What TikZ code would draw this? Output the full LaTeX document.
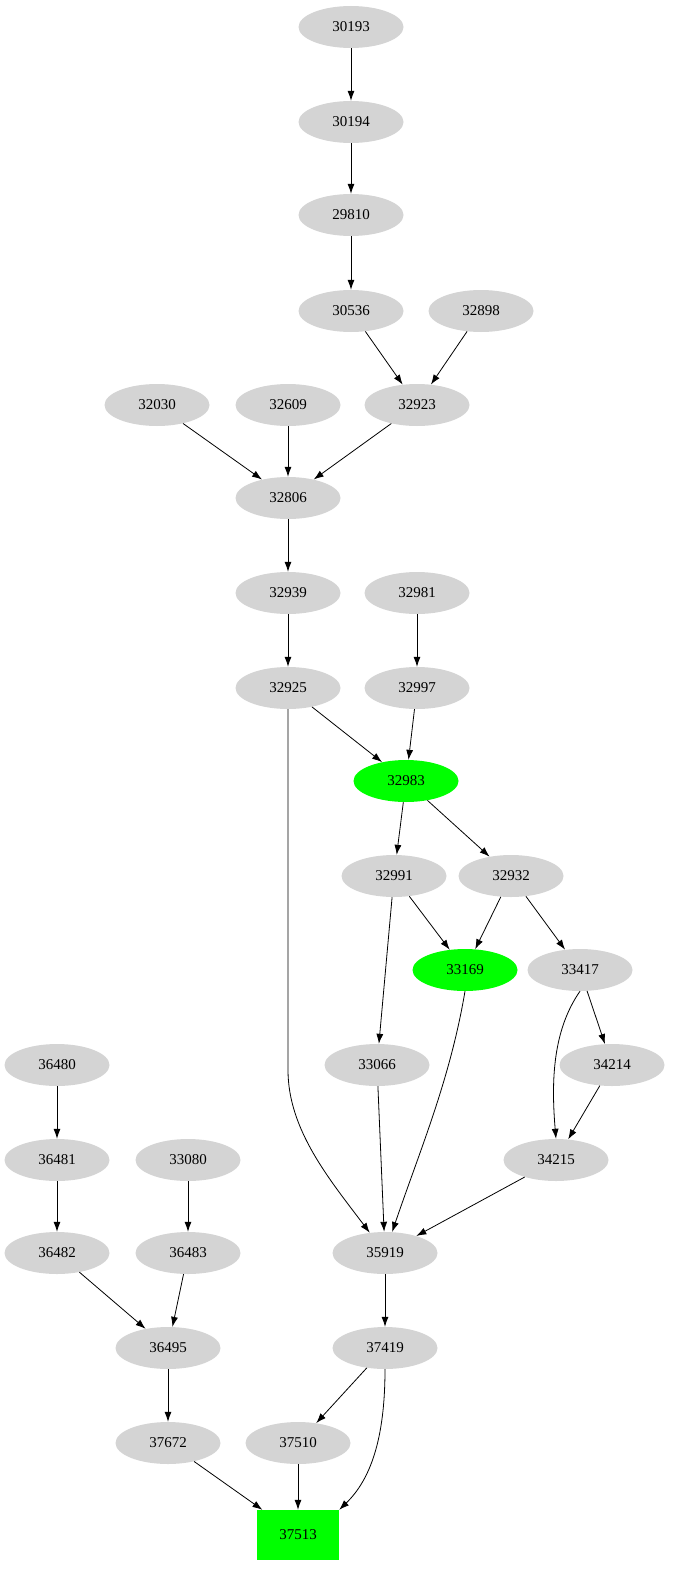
\documentclass[tikz,border=0pt]{standalone}
\usepackage{fontspec}
\setmainfont{Liberation Serif}
\usetikzlibrary{arrows.meta,shapes.geometric}
\begin{document}
\begin{tikzpicture}[x=1pt,y=-1pt,
 nd/.style={ellipse,fill=black!17,minimum width=105pt,minimum height=42pt,inner sep=0pt,font=\fontsize{15}{16}\selectfont},
 gn/.style={nd,fill=green},
 bx/.style={rectangle,fill=green,minimum width=82pt,minimum height=50pt,font=\fontsize{15}{16}\selectfont},
 ar/.style={-{Latex[length=10pt,width=7pt]},line width=0.8pt}]
\useasboundingbox (0,0) rectangle (694,1595);
\node[nd] (a30193) at (351,27) {30193};
\node[nd] (a30194) at (351,122) {30194};
\node[nd] (a29810) at (351,215) {29810};
\node[nd] (a30536) at (351,311) {30536};
\node[nd] (a32898) at (481,311) {32898};
\node[nd] (a32030) at (157,405) {32030};
\node[nd] (a32609) at (288,405) {32609};
\node[nd] (a32923) at (417,405) {32923};
\node[nd] (a32806) at (288,498) {32806};
\node[nd] (a32939) at (288,593) {32939};
\node[nd] (a32981) at (417,593) {32981};
\node[nd] (a32925) at (288,688) {32925};
\node[nd] (a32997) at (417,688) {32997};
\node[gn] (a32983) at (406,781) {32983};
\node[nd] (a32991) at (394,876) {32991};
\node[nd] (a32932) at (511,876) {32932};
\node[gn] (a33169) at (465,970) {33169};
\node[nd] (a33417) at (580,970) {33417};
\node[nd] (a36480) at (57,1065) {36480};
\node[nd] (a33066) at (377,1065) {33066};
\node[nd] (a34214) at (612,1065) {34214};
\node[nd] (a36481) at (57,1160) {36481};
\node[nd] (a33080) at (188,1160) {33080};
\node[nd] (a34215) at (556,1160) {34215};
\node[nd] (a36482) at (57,1253) {36482};
\node[nd] (a36483) at (188,1253) {36483};
\node[nd] (a35919) at (385,1253) {35919};
\node[nd] (a36495) at (168,1348) {36495};
\node[nd] (a37419) at (385,1348) {37419};
\node[nd] (a37672) at (168,1443) {37672};
\node[nd] (a37510) at (298,1443) {37510};
\node[bx] (a37513) at (298,1535) {37513};
\draw[ar] (a30193)--(a30194);
\draw[ar] (a30194)--(a29810);
\draw[ar] (a29810)--(a30536);
\draw[ar] (a30536)--(a32923);
\draw[ar] (a32898)--(a32923);
\draw[ar] (a32030)--(a32806);
\draw[ar] (a32609)--(a32806);
\draw[ar] (a32923)--(a32806);
\draw[ar] (a32806)--(a32939);
\draw[ar] (a32939)--(a32925);
\draw[ar] (a32981)--(a32997);
\draw[ar] (a32925)--(a32983);
\draw[ar] (a32997)--(a32983);
\draw[ar] (a32983)--(a32991);
\draw[ar] (a32983)--(a32932);
\draw[ar] (a32991)--(a33169);
\draw[ar] (a32932)--(a33169);
\draw[ar] (a32932)--(a33417);
\draw[ar] (a32991)--(a33066);
\draw[ar] (a33417)--(a34214);
\draw[ar] (a33417.south) .. controls (553,1030) and (551,1080) .. (a34215.north);
\draw[ar] (a34214)--(a34215);
\draw[ar] (a32925.south) -- (288,1070) .. controls (288,1130) and (330,1180) .. (a35919);
\draw[ar] (a33066)--(a35919);
\draw[ar] (a33169.south) .. controls (450,1080) and (420,1150) .. (a35919);
\draw[ar] (a34215)--(a35919);
\draw[ar] (a36480)--(a36481);
\draw[ar] (a36481)--(a36482);
\draw[ar] (a33080)--(a36483);
\draw[ar] (a36482)--(a36495);
\draw[ar] (a36483)--(a36495);
\draw[ar] (a36495)--(a37672);
\draw[ar] (a35919)--(a37419);
\draw[ar] (a37419)--(a37510);
\draw[ar] (a37419.south) .. controls (385,1440) and (370,1480) .. (a37513.north east);
\draw[ar] (a37672)--(a37513);
\draw[ar] (a37510)--(a37513);
\end{tikzpicture}
\end{document}
